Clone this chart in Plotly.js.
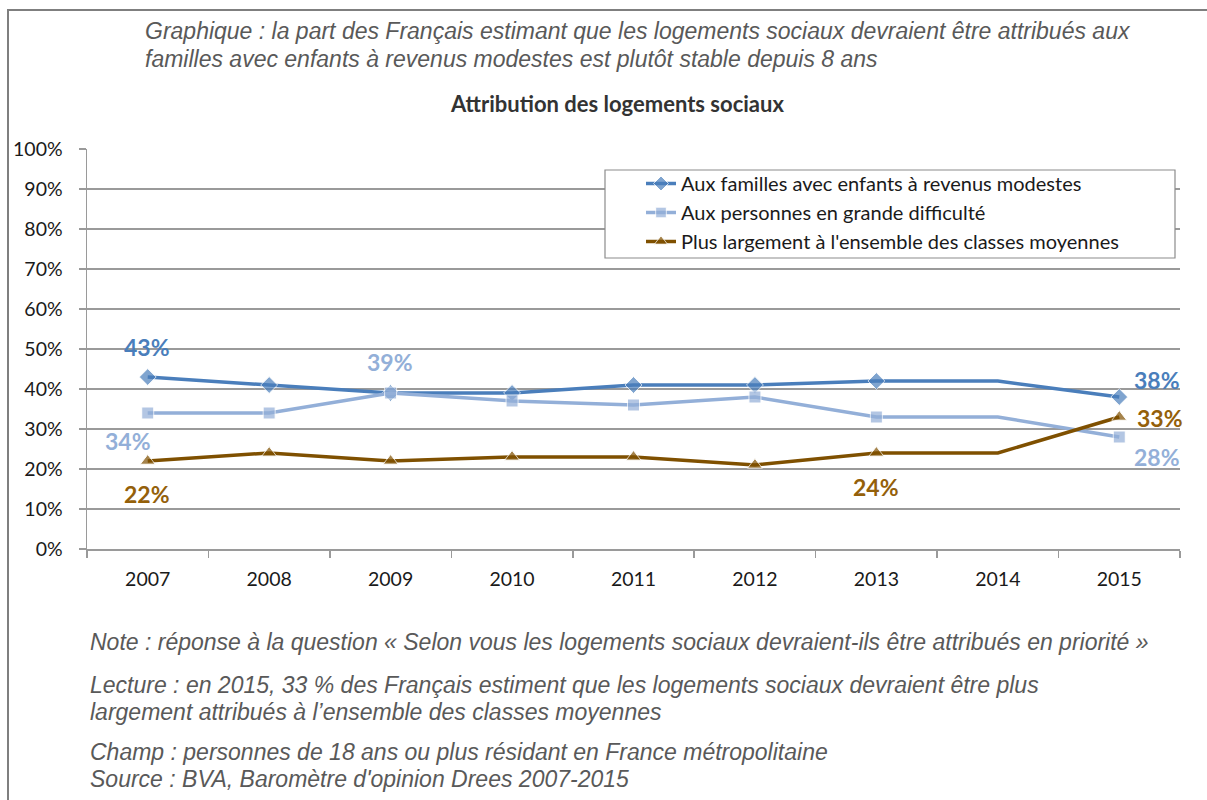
<!DOCTYPE html>
<html>
<head>
<meta charset="utf-8">
<script src="https://cdn.plot.ly/plotly-3.0.1.min.js"></script>
<style>
  html, body { margin: 0; padding: 0; background: #ffffff; }
  #chart { width: 1207px; height: 800px; }
</style>
</head>
<body>
<div id="chart"></div>
<script>
// ---- Data ----
var years = ['2007', '2008', '2009', '2010', '2011', '2012', '2013', '2014', '2015'];
var famillesModestes = [43, 41, 39, 39, 41, 41, 42, 42, 38];
var grandeDifficulte = [34, 34, 39, 37, 36, 38, 33, 33, 28];
var classesMoyennes = [22, 24, 22, 23, 23, 21, 24, 24, 33];
var seriesNames = [
  'Aux familles avec enfants à revenus modestes',
  'Aux personnes en grande difficulté',
  "Plus largement à l'ensemble des classes moyennes"
];
var yTickVals = [0, 10, 20, 30, 40, 50, 60, 70, 80, 90, 100];
var yTickText = ['0%', '10%', '20%', '30%', '40%', '50%', '60%', '70%', '80%', '90%', '100%'];

var titleLines = [
  'Graphique : la part des Français estimant que les logements sociaux devraient être attribués aux',
  'familles avec enfants à revenus modestes est plutôt stable depuis 8 ans'
];
var chartTitle = 'Attribution des logements sociaux';
var noteLines = [
  'Note : réponse à la question « Selon vous les logements sociaux devraient-ils être attribués en priorité »',
  'Lecture : en 2015, 33 % des Français estiment que les logements sociaux devraient être plus',
  'largement attribués à l’ensemble des classes moyennes',
  'Champ : personnes de 18 ans ou plus résidant en France métropolitaine',
  "Source : BVA, Baromètre d'opinion Drees 2007-2015"
];

// ---- Layout helpers (pixel -> paper) ----
var W = 1207, H = 800;
var M = { l: 87, r: 27, t: 149, b: 251 };
var PW = W - M.l - M.r, PH = H - M.t - M.b;
function px(x) { return (x - M.l) / PW; }
function py(y) { return (H - M.b - y) / PH; }

var c1 = '#4A7EBB', c2 = '#93AFD8', c3 = '#7F5000';
var c3label = '#94600A';
var calibri = 'Lato, Carlito, Calibri, sans-serif';

function sizes(base) {
  return years.map(function (y) { return y === '2014' ? 0 : base; });
}

var traces = [
  {
    x: years, y: famillesModestes, name: seriesNames[0], type: 'scatter', mode: 'lines+markers',
    line: { color: c1, width: 3.5 },
    marker: { symbol: 'diamond', size: sizes(13), color: c1 }
  },
  {
    x: years, y: grandeDifficulte, name: seriesNames[1], type: 'scatter', mode: 'lines+markers',
    line: { color: c2, width: 3.5 },
    marker: { symbol: 'square', size: sizes(12), color: c2 }
  },
  {
    x: years, y: classesMoyennes, name: seriesNames[2], type: 'scatter', mode: 'lines+markers',
    line: { color: c3, width: 3.5 },
    marker: { symbol: 'triangle-up', size: sizes(13), color: c3 }
  }
];

function dataLabel(series, idx, color, xs, ys) {
  return {
    xref: 'x', yref: 'y', x: idx, y: series[idx],
    text: '<b>' + series[idx] + '%</b>', showarrow: false,
    xshift: xs, yshift: ys,
    font: { family: calibri, size: 23, color: color }
  };
}

var annotations = [
  dataLabel(famillesModestes, 0, c1, -1, 30),
  dataLabel(grandeDifficulte, 2, c2, -1, 31),
  dataLabel(grandeDifficulte, 0, c2, -20, -28),
  dataLabel(classesMoyennes, 0, c3label, -1, -33),
  dataLabel(classesMoyennes, 6, c3label, 0, -34),
  dataLabel(famillesModestes, 8, c1, 38, 17),
  dataLabel(classesMoyennes, 8, c3label, 41, -1),
  dataLabel(grandeDifficulte, 8, c2, 38, -20)
];

var italicFont = { family: 'Liberation Sans, Arial, sans-serif', size: 23, color: '#595959', style: 'italic' };
function textLine(t, x, y) {
  return {
    xref: 'paper', yref: 'paper', x: px(x), y: py(y), xanchor: 'left', yanchor: 'middle',
    text: t, showarrow: false, align: 'left', font: italicFont
  };
}
annotations.push(textLine(titleLines[0], 143, 31));
annotations.push(textLine(titleLines[1], 143, 59));
annotations.push({
  xref: 'paper', yref: 'paper', x: px(617), y: py(104), xanchor: 'center', yanchor: 'middle',
  text: '<b>' + chartTitle + '</b>', showarrow: false,
  font: { family: calibri, size: 22, color: '#333333' }
});
annotations.push(textLine(noteLines[0], 88, 642));
annotations.push(textLine(noteLines[1], 88, 685));
annotations.push(textLine(noteLines[2], 88, 712));
annotations.push(textLine(noteLines[3], 88, 752));
annotations.push(textLine(noteLines[4], 88, 779));

var shapes = [
  // outer frame (left and top edges visible)
  {
    type: 'path', xref: 'paper', yref: 'paper',
    path: 'M ' + px(8) + ' ' + py(805) + ' L ' + px(8) + ' ' + py(10) + ' L ' + px(1210) + ' ' + py(10),
    line: { color: '#7F7F7F', width: 2 }
  },
  // legend frame
  {
    type: 'rect', xref: 'paper', yref: 'paper',
    x0: px(605), x1: px(1175), y0: py(258), y1: py(170),
    line: { color: '#8C8C8C', width: 1.2 }, fillcolor: '#FFFFFF', layer: 'above'
  }
];

var axisFont = { family: calibri, size: 19.5, color: '#1A1A1A' };

var layout = {
  width: W, height: H,
  margin: M,
  paper_bgcolor: '#FFFFFF', plot_bgcolor: '#FFFFFF',
  showlegend: true,
  legend: {
    x: px(641), y: py(164), xanchor: 'left', yanchor: 'top',
    bgcolor: 'rgba(0,0,0,0)', borderwidth: 0,
    font: { family: calibri, size: 20, color: '#1A1A1A' }
  },
  xaxis: {
    type: 'category', range: [-0.5, 8.5],
    showgrid: false, showline: true, linecolor: '#9A9A9A', linewidth: 1.5,
    ticks: 'outside', tickson: 'boundaries', ticklen: 7, tickcolor: '#9A9A9A', tickwidth: 1.5,
    tickfont: axisFont, ticklabelstandoff: 12,
    fixedrange: true, zeroline: false
  },
  yaxis: {
    range: [0, 100], tickvals: yTickVals, ticktext: yTickText,
    showgrid: true, gridcolor: '#9A9A9A', gridwidth: 1.5,
    showline: true, linecolor: '#9A9A9A', linewidth: 1.5,
    ticks: 'outside', ticklen: 7, tickcolor: '#9A9A9A', tickwidth: 1.5,
    tickfont: axisFont, ticklabelstandoff: 12,
    zeroline: false, fixedrange: true
  },
  annotations: annotations,
  shapes: shapes
};

Plotly.newPlot('chart', traces, layout, { displayModeBar: false, staticPlot: true });
</script>
</body>
</html>
